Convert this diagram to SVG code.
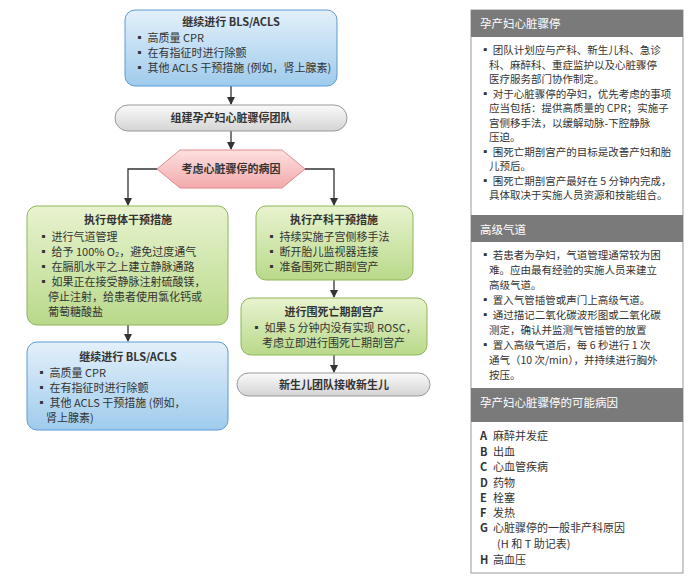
<svg xmlns="http://www.w3.org/2000/svg" width="691" height="582" viewBox="0 0 691 582">
<defs>
<linearGradient id="blue" x1="0" y1="0" x2="0" y2="1"><stop offset="0" stop-color="#e3f0fa"/><stop offset="1" stop-color="#9fcbec"/></linearGradient>
<linearGradient id="green" x1="0" y1="0" x2="0" y2="1"><stop offset="0" stop-color="#e8f3cf"/><stop offset="1" stop-color="#b9d98a"/></linearGradient>
<linearGradient id="gray" x1="0" y1="0" x2="0" y2="1"><stop offset="0" stop-color="#fafafa"/><stop offset="1" stop-color="#d4d4d4"/></linearGradient>
<linearGradient id="pink" x1="0" y1="0" x2="0" y2="1"><stop offset="0" stop-color="#fde0e0"/><stop offset="1" stop-color="#f3a9ab"/></linearGradient>
<marker id="ar" markerWidth="8" markerHeight="8" refX="7" refY="4" orient="auto" markerUnits="userSpaceOnUse"><path d="M0,0 L8,4 L0,8 z" fill="#333"/></marker>
</defs>
<style>
text{font-family:"Noto Sans CJK SC","Liberation Sans",sans-serif;font-size:11px;fill:#333}
.t{font-weight:bold;text-anchor:middle}
.bx{stroke:#5b9bd5;stroke-width:1}
.gb{stroke:#8db558;stroke-width:1}
.pl{stroke:#999;stroke-width:1}
.h{fill:#fff;font-size:11.5px}
.p{font-size:10.5px}
.c{stroke:#333;stroke-width:1.3;fill:none}
</style>
<rect width="691" height="582" fill="#fff"/>
<g id="connectors">
<line class="c" x1="231" y1="86" x2="231" y2="104" marker-end="url(#ar)"/>
<line class="c" x1="231" y1="131" x2="231" y2="149" marker-end="url(#ar)"/>
<polyline class="c" points="157,169 128,169 128,205" marker-end="url(#ar)"/>
<polyline class="c" points="305,169 334,169 334,205" marker-end="url(#ar)"/>
<line class="c" x1="334" y1="280" x2="334" y2="297" marker-end="url(#ar)"/>
<line class="c" x1="334" y1="355" x2="334" y2="372" marker-end="url(#ar)"/>
<line class="c" x1="128" y1="325" x2="128" y2="341" marker-end="url(#ar)"/>
</g>
<g id="n1">
<rect class="bx" x="125" y="10" width="212" height="76" rx="10" fill="url(#blue)"/>
<text class="t" x="231" y="26">继续进行 BLS/ACLS</text>
<text x="134" y="42">▪ 高质量 CPR</text>
<text x="134" y="57">▪ 在有指征时进行除颤</text>
<text x="134" y="72">▪ 其他 ACLS 干预措施 (例如，肾上腺素)</text>
</g>
<g id="n2">
<rect class="pl" x="115" y="105" width="232" height="26" rx="13" fill="url(#gray)"/>
<text class="t" x="231" y="122">组建孕产妇心脏骤停团队</text>
</g>
<g id="n3">
<polygon points="157,169 180,150 282,150 305,169 282,188 180,188" fill="url(#pink)" stroke="#e08a8d"/>
<text class="t" x="231" y="173">考虑心脏骤停的病因</text>
</g>
<g id="n4">
<rect class="gb" x="27" y="206" width="201" height="119" rx="10" fill="url(#green)"/>
<text class="t" x="128" y="224">执行母体干预措施</text>
<text x="38" y="241">▪ 进行气道管理</text>
<text x="38" y="256">▪ 给予 100% O₂，避免过度通气</text>
<text x="38" y="271">▪ 在膈肌水平之上建立静脉通路</text>
<text x="38" y="286">▪ 如果正在接受静脉注射硫酸镁，</text>
<text x="48" y="301">停止注射，给患者使用氯化钙或</text>
<text x="48" y="316">葡萄糖酸盐</text>
</g>
<g id="n5">
<rect class="bx" x="27" y="342" width="201" height="88" rx="10" fill="url(#blue)"/>
<text class="t" x="128" y="361">继续进行 BLS/ACLS</text>
<text x="36" y="377">▪ 高质量 CPR</text>
<text x="36" y="392">▪ 在有指征时进行除颤</text>
<text x="36" y="407">▪ 其他 ACLS 干预措施 (例如，</text>
<text x="46" y="422">肾上腺素)</text>
</g>
<g id="n6">
<rect class="gb" x="256" y="206" width="157" height="74" rx="10" fill="url(#green)"/>
<text class="t" x="334" y="224">执行产科干预措施</text>
<text x="266" y="241">▪ 持续实施子宫侧移手法</text>
<text x="266" y="256">▪ 断开胎儿监视器连接</text>
<text x="266" y="271">▪ 准备围死亡期剖宫产</text>
</g>
<g id="n7">
<rect class="gb" x="241" y="298" width="186" height="57" rx="10" fill="url(#green)"/>
<text class="t" x="334" y="316">进行围死亡期剖宫产</text>
<text x="251" y="332">▪ 如果 5 分钟内没有实现 ROSC，</text>
<text x="262" y="347">考虑立即进行围死亡期剖宫产</text>
</g>
<g id="n8">
<rect class="pl" x="237" y="373" width="193" height="23" rx="11.5" fill="url(#gray)"/>
<text class="t" x="334" y="389">新生儿团队接收新生儿</text>
</g>
<g id="panel">
<rect x="471" y="10" width="212" height="563" fill="#fff" stroke="#999"/>
<rect x="471" y="10" width="212" height="27" fill="#7a7a7a"/>
<text class="h" x="480" y="28">孕产妇心脏骤停</text>
<text class="p" x="480" y="54">▪ 团队计划应与产科、新生儿科、急诊</text>
<text class="p" x="489" y="68.5">科、麻醉科、重症监护以及心脏骤停</text>
<text class="p" x="489" y="83">医疗服务部门协作制定。</text>
<text class="p" x="480" y="97.5">▪ 对于心脏骤停的孕妇，优先考虑的事项</text>
<text class="p" x="489" y="112">应当包括：提供高质量的 CPR；实施子</text>
<text class="p" x="489" y="126.5">宫侧移手法，以缓解动脉-下腔静脉</text>
<text class="p" x="489" y="141">压迫。</text>
<text class="p" x="480" y="155.5">▪ 围死亡期剖宫产的目标是改善产妇和胎</text>
<text class="p" x="489" y="170">儿预后。</text>
<text class="p" x="480" y="184.5">▪ 围死亡期剖宫产最好在 5 分钟内完成，</text>
<text class="p" x="489" y="199">具体取决于实施人员资源和技能组合。</text>
<rect x="471" y="215" width="212" height="27" fill="#7a7a7a"/>
<text class="h" x="480" y="234">高级气道</text>
<text class="p" x="480" y="259">▪ 若患者为孕妇，气道管理通常较为困</text>
<text class="p" x="489" y="274">难。应由最有经验的实施人员来建立</text>
<text class="p" x="489" y="289">高级气道。</text>
<text class="p" x="480" y="304">▪ 置入气管插管或声门上高级气道。</text>
<text class="p" x="480" y="319">▪ 通过描记二氧化碳波形图或二氧化碳</text>
<text class="p" x="489" y="334">测定，确认并监测气管插管的放置</text>
<text class="p" x="480" y="349">▪ 置入高级气道后，每 6 秒进行 1 次</text>
<text class="p" x="489" y="364">通气（10 次/min），并持续进行胸外</text>
<text class="p" x="489" y="379">按压。</text>
<rect x="471" y="388" width="212" height="34" fill="#7a7a7a"/>
<text class="h" x="480" y="407">孕产妇心脏骤停的可能病因</text>
<text x="480" y="440"><tspan font-weight="bold">A</tspan><tspan x="493">麻醉并发症</tspan></text>
<text x="480" y="456"><tspan font-weight="bold">B</tspan><tspan x="493">出血</tspan></text>
<text x="480" y="471"><tspan font-weight="bold">C</tspan><tspan x="493">心血管疾病</tspan></text>
<text x="480" y="487"><tspan font-weight="bold">D</tspan><tspan x="493">药物</tspan></text>
<text x="480" y="502"><tspan font-weight="bold">E</tspan><tspan x="493">栓塞</tspan></text>
<text x="480" y="517"><tspan font-weight="bold">F</tspan><tspan x="493">发热</tspan></text>
<text x="480" y="532"><tspan font-weight="bold">G</tspan><tspan x="493">心脏骤停的一般非产科原因</tspan></text>
<text x="497" y="548">(H 和 T 助记表)</text>
<text x="480" y="564"><tspan font-weight="bold">H</tspan><tspan x="493">高血压</tspan></text>
</g>
</svg>
